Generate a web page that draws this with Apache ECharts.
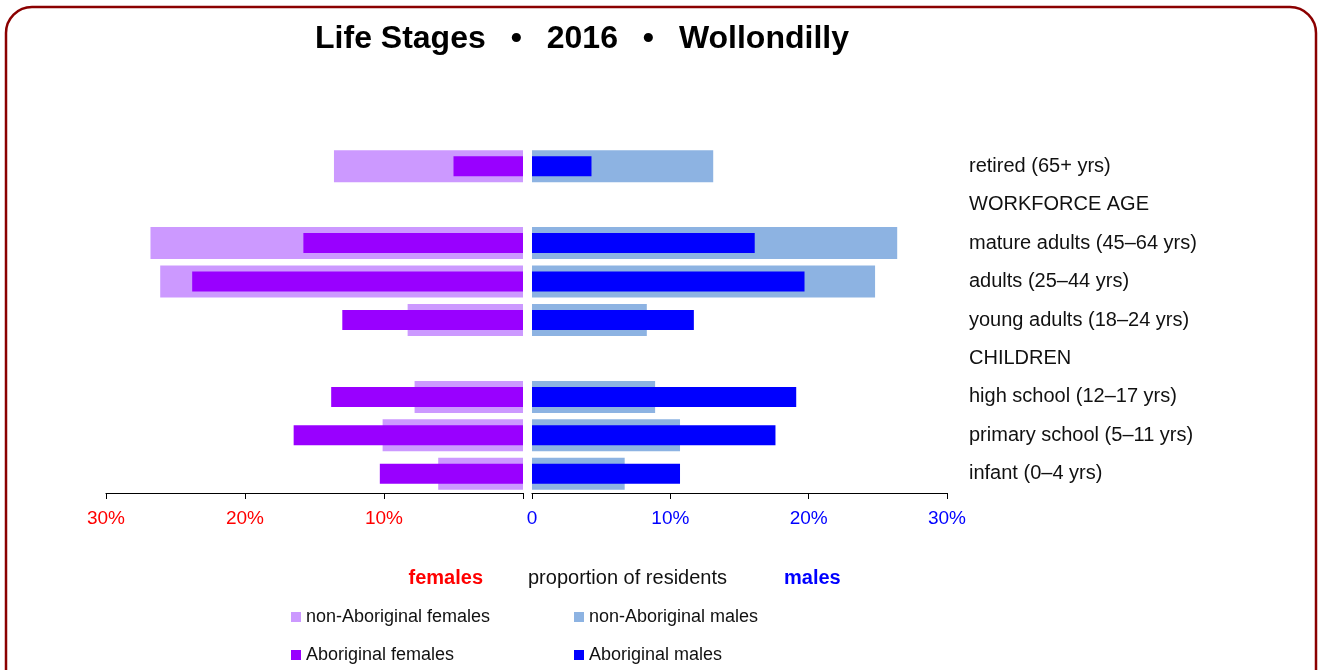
<!DOCTYPE html>
<html>
<head>
<meta charset="utf-8">
<script src="https://cdn.jsdelivr.net/npm/echarts@6/dist/echarts.min.js"></script>
<style>
  html, body { margin: 0; padding: 0; background: #fff; }
  #chart { width: 1320px; height: 670px; }
</style>
</head>
<body>
<div id="chart"></div>
<script>
const categories = [
  "retired (65+ yrs)",
  "WORKFORCE AGE",
  "mature adults (45–64 yrs)",
  "adults (25–44 yrs)",
  "young adults (18–24 yrs)",
  "CHILDREN",
  "high school (12–17 yrs)",
  "primary school (5–11 yrs)",
  "infant (0–4 yrs)",
];

// percent of residents, null for heading rows
const nonAbFemales = [13.6, null, 26.8, 26.1, 8.3, null, 7.8, 10.1, 6.1];
const abFemales = [5.0, null, 15.8, 23.8, 13.0, null, 13.8, 16.5, 10.3];
const nonAbMales = [13.1, null, 26.4, 24.8, 8.3, null, 8.9, 10.7, 6.7];
const abMales = [4.3, null, 16.1, 19.7, 11.7, null, 19.1, 17.6, 10.7];

const axisTicks = [0, 10, 20, 30];

const font = "'Liberation Sans', Arial, Helvetica, sans-serif";
const plotTop = 147;
const plotHeight = 346;

const chart = echarts.init(document.getElementById("chart"), null, { renderer: "canvas" });

const catAxis = (gridIndex, extra) => Object.assign({
  type: "category",
  gridIndex: gridIndex,
  data: categories,
  inverse: true,
  show: false,
  axisLine: { show: false },
  axisTick: { show: false },
}, extra);

const valueAxis = (gridIndex, inverse, color, fmt) => ({
  type: "value",
  gridIndex: gridIndex,
  inverse: inverse,
  min: axisTicks[0],
  max: axisTicks[axisTicks.length - 1],
  interval: 10,
  splitLine: { show: false },
  axisLine: { show: true, lineStyle: { color: "#000", width: 1.2 } },
  axisTick: { show: true, length: 6, lineStyle: { color: "#000" } },
  axisLabel: {
    color: color,
    fontFamily: font,
    fontSize: 19,
    margin: 16,
    formatter: fmt,
  },
});

// one legend per item so each can sit where it does in the original
const legendItem = (name, left, top) => ({
  left: left,
  top: top,
  padding: 0,
  itemWidth: 10,
  itemHeight: 10,
  icon: "rect",
  data: [name],
  textStyle: { fontFamily: font, fontSize: 18, color: "#111", lineHeight: 18 },
});

const option = {
  animation: false,
  backgroundColor: "#fff",
  grid: [
    { left: 106, width: 417, top: plotTop, height: plotHeight },
    { left: 532, width: 415, top: plotTop, height: plotHeight },
  ],
  xAxis: [
    valueAxis(0, true, "#ff0000", (v) => (v === 0 ? "" : v + "%")),
    valueAxis(1, false, "#0000ff", (v) => (v === 0 ? "0" : v + "%")),
  ],
  yAxis: [
    catAxis(0, { position: "left" }),
    catAxis(0, { position: "right" }),
    catAxis(1, {
      position: "right",
      show: true,
      axisLabel: {
        show: true,
        color: "#111",
        fontFamily: font,
        fontSize: 20,
        margin: 22,
        align: "left",
      },
    }),
    catAxis(1, { position: "left" }),
  ],
  legend: [
    legendItem("non-Aboriginal females", 291, 608),
    legendItem("Aboriginal females", 291, 646),
    legendItem("non-Aboriginal males", 574, 608),
    legendItem("Aboriginal males", 574, 646),
  ],
  series: [
    {
      name: "non-Aboriginal females",
      type: "bar",
      xAxisIndex: 0,
      yAxisIndex: 0,
      data: nonAbFemales,
      barWidth: 32,
      itemStyle: { color: "#cc99ff" },
    },
    {
      name: "Aboriginal females",
      type: "bar",
      xAxisIndex: 0,
      yAxisIndex: 1,
      data: abFemales,
      barWidth: 20,
      itemStyle: { color: "#9900ff" },
    },
    {
      name: "non-Aboriginal males",
      type: "bar",
      xAxisIndex: 1,
      yAxisIndex: 2,
      data: nonAbMales,
      barWidth: 32,
      itemStyle: { color: "#8db3e2" },
    },
    {
      name: "Aboriginal males",
      type: "bar",
      xAxisIndex: 1,
      yAxisIndex: 3,
      data: abMales,
      barWidth: 20,
      itemStyle: { color: "#0000ff" },
    },
  ],
  graphic: [
    {
      type: "rect",
      shape: { x: 6, y: 7, width: 1310, height: 720, r: 26 },
      style: { fill: "none", stroke: "#8b0000", lineWidth: 2.5 },
      silent: true,
    },
    {
      type: "text",
      x: 582,
      y: 39,
      style: {
        text: "Life Stages \u2002•\u2002 2016 \u2002•\u2002 Wollondilly",
        fontFamily: font,
        fontWeight: "bold",
        fontSize: 32,
        fill: "#000",
        textAlign: "center",
        textVerticalAlign: "middle",
      },
    },
    {
      type: "text",
      x: 483,
      y: 578,
      style: {
        text: "females",
        fontFamily: font,
        fontWeight: "bold",
        fontSize: 20,
        fill: "#ff0000",
        textAlign: "right",
        textVerticalAlign: "middle",
      },
    },
    {
      type: "text",
      x: 528,
      y: 578,
      style: {
        text: "proportion of residents",
        fontFamily: font,
        fontSize: 20,
        fill: "#111",
        textAlign: "left",
        textVerticalAlign: "middle",
      },
    },
    {
      type: "text",
      x: 784,
      y: 578,
      style: {
        text: "males",
        fontFamily: font,
        fontWeight: "bold",
        fontSize: 20,
        fill: "#0000ff",
        textAlign: "left",
        textVerticalAlign: "middle",
      },
    },
  ],
};

chart.setOption(option);
</script>
</body>
</html>
